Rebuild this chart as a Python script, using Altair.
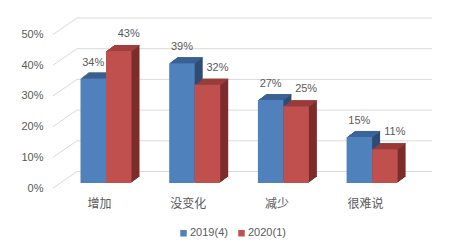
import altair as alt
import pandas as pd

categories = ["增加", "没变化", "减少", "很难说"]
series = ["2019(4)", "2020(1)"]
v2019 = [34, 39, 27, 15]
v2020 = [43, 32, 25, 11]
ticks = [0, 0.1, 0.2, 0.3, 0.4, 0.5]

front_colors = ["#4f81bd", "#c0504d"]
top_colors = ["#3d669a", "#a03f3c"]
side_colors = ["#2e4b74", "#7c2d2b"]

bw = 25.5 / 88.7  # bar width in category units
rows = []
for i, c in enumerate(categories):
    for k, (s, vals) in enumerate(zip(series, [v2019, v2020])):
        x0 = i - bw + k * bw
        rows.append({"cat": c, "series": s, "value": vals[i] / 100.0,
                     "x0": x0, "x1": x0 + bw, "xc": x0 + bw / 2})
df = pd.DataFrame(rows)
grid_df = pd.DataFrame({"t": ticks})

FONT = "Liberation Sans"
TXT = "#595959"
GRID = "#d9d9d9"

xscale = alt.Scale(domain=[-53 / 88.7, 327 / 88.7], nice=False, zero=False)
yscale = alt.Scale(domain=[0, 0.5], nice=False)
label_expr = "[" + ",".join("'%s'" % c for c in categories) + "][datum.value]"
xaxis = alt.Axis(values=list(range(len(categories))), labelExpr=label_expr,
                 domain=False, ticks=False, grid=False, labelPadding=15,
                 labelOffset=-7, labelFont="Noto Sans CJK SC", labelFontSize=12,
                 labelColor=TXT, title=None)
yaxis = alt.Axis(values=ticks, format=".0%", domain=False, ticks=False, grid=False,
                 labelPadding=10, labelOffset=5, labelFont=FONT, labelFontSize=11,
                 labelColor=TXT, title=None)

def X(f):
    return alt.X(f + ":Q", scale=xscale, axis=xaxis)

def Y(f):
    return alt.Y(f + ":Q", scale=yscale, axis=yaxis)

base = alt.Chart(df)
is2019 = alt.datum.series == series[0]

grid_back = alt.Chart(grid_df).mark_rule(color=GRID, strokeWidth=1, yOffset=-11.5).encode(
    y=Y("t"), x=alt.value(24), x2=alt.value(379))
grid_diag = alt.Chart(grid_df).mark_rule(color=GRID, strokeWidth=1, yOffset=5, y2Offset=-11.5).encode(
    y=Y("t"), y2="t:Q", x=alt.value(0), x2=alt.value(24))

STEPS = 6
DEPTH_X, DEPTH_Y = 8.0, 6.0
side_layers = []
top_layers = []
for k in range(1, STEPS + 1):
    ox = DEPTH_X * k / STEPS
    oy = DEPTH_Y * k / STEPS
    oy_prev = DEPTH_Y * (k - 1) / STEPS
    side_layers.append(base.mark_rect(xOffset=ox, x2Offset=ox, yOffset=-oy, y2Offset=-oy).encode(
        x=X("x0"), x2="x1:Q", y=Y("value"), y2=alt.datum(0),
        color=alt.condition(is2019, alt.value(side_colors[0]), alt.value(side_colors[1]))))
    top_layers.append(base.mark_rect(xOffset=ox, x2Offset=ox, yOffset=-oy, y2Offset=-oy_prev).encode(
        x=X("x0"), x2="x1:Q", y=Y("value"), y2="value:Q",
        color=alt.condition(is2019, alt.value(top_colors[0]), alt.value(top_colors[1]))))

front = base.mark_rect().encode(
    x=X("x0"), x2="x1:Q", y=Y("value"), y2=alt.datum(0),
    color=alt.Color("series:N", scale=alt.Scale(domain=series, range=front_colors),
                    legend=alt.Legend(title=None, orient="none", direction="horizontal",
                                      legendX=125, legendY=198, symbolType="square",
                                      symbolSize=42, symbolStrokeWidth=0,
                                      labelFont=FONT, labelFontSize=11, labelColor=TXT,
                                      labelOffset=1, columnPadding=8)))

lab1 = base.transform_filter(is2019).mark_text(
    dy=-16, font=FONT, fontSize=11, color=TXT, baseline="middle").encode(
    x=X("xc"), y=Y("value"), text=alt.Text("value:Q", format=".0%"))
lab2 = base.transform_filter(alt.datum.series == series[1]).mark_text(
    dy=-17, dx=10, font=FONT, fontSize=11, color=TXT, baseline="middle").encode(
    x=X("xc"), y=Y("value"), text=alt.Text("value:Q", format=".0%"))

chart = alt.layer(grid_back, grid_diag, *side_layers, *top_layers, front, lab1, lab2).properties(
    width=380, height=153.5,
    autosize=alt.AutoSizeParams(type="none"),
    padding={"left": 53, "top": 29.5, "right": 29, "bottom": 69},
    background="white",
).configure_view(stroke=None)

chart.save("out.html", embed_options={"renderer": "svg", "actions": False})
